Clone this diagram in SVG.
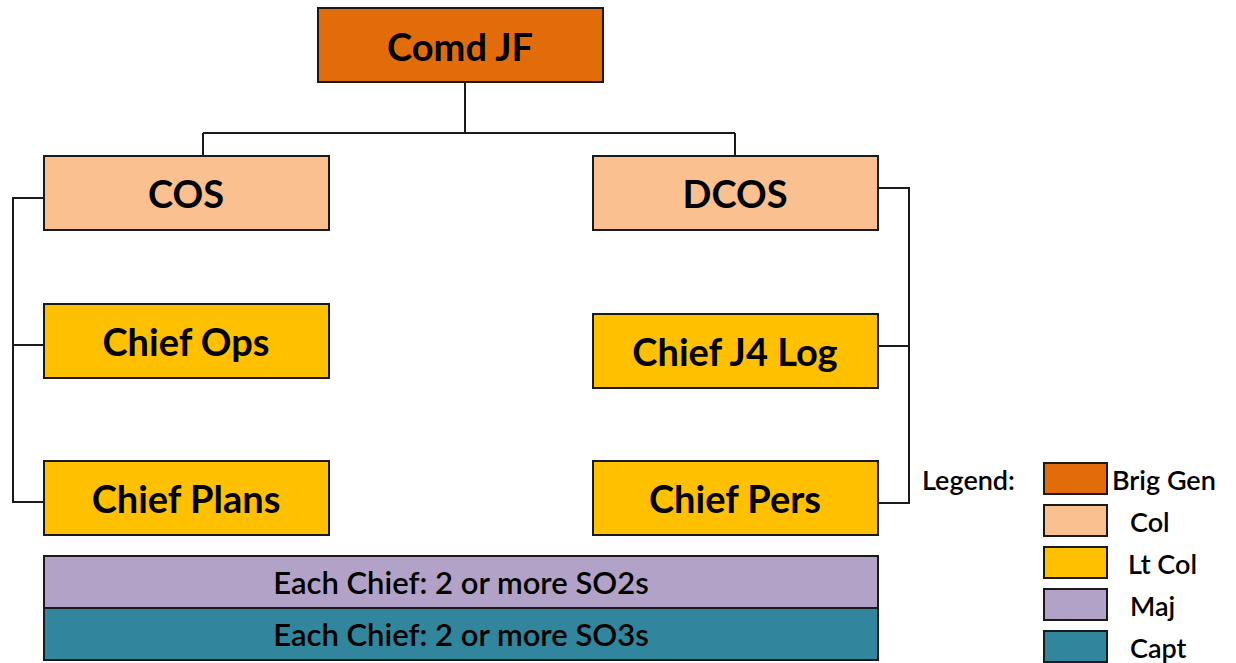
<svg xmlns="http://www.w3.org/2000/svg" width="1236" height="663" viewBox="0 0 1236 663">
<style>
.box{stroke:#1a1a1a;stroke-width:2}
.bg{fill:#E36C0A}.col{fill:#FAC090}.lt{fill:#FFC000}.maj{fill:#B3A2C7}.capt{fill:#31859C}
.lbl{font-family:Lato,"Open Sans",sans-serif;font-weight:bold;font-size:38px;fill:#000;text-anchor:middle;dominant-baseline:central}
.bar{font-family:Lato,"Open Sans",sans-serif;font-weight:600;font-size:31px;fill:#000;text-anchor:middle;dominant-baseline:central}
.leg{font-family:Lato,"Open Sans",sans-serif;font-weight:600;font-size:27px;fill:#000;dominant-baseline:central}
.conn{fill:none;stroke:#1a1a1a;stroke-width:2}
</style>
<rect width="1236" height="663" fill="#fff"/>
<g id="connectors" class="conn">
<path d="M465 82V133M203 133H735M203 133V155M735 133V155"/>
<path d="M44 198H13V502H44M13 345H44"/>
<path d="M878 188H909V503H878M909 346H878"/>
</g>
<g id="comd"><rect class="box bg" x="318" y="8" width="285" height="74"/><text class="lbl" x="460" y="46">Comd JF</text></g>
<g id="cos"><rect class="box col" x="44" y="156" width="285" height="74"/><text class="lbl" x="186" y="193">COS</text></g>
<g id="dcos"><rect class="box col" x="593" y="156" width="285" height="74"/><text class="lbl" x="735" y="193">DCOS</text></g>
<g id="ops"><rect class="box lt" x="44" y="304" width="285" height="74"/><text class="lbl" x="186" y="341">Chief Ops</text></g>
<g id="j4"><rect class="box lt" x="593" y="314" width="285" height="74"/><text class="lbl" x="735" y="351">Chief J4 Log</text></g>
<g id="plans"><rect class="box lt" x="44" y="461" width="285" height="74"/><text class="lbl" x="186" y="498">Chief Plans</text></g>
<g id="pers"><rect class="box lt" x="593" y="461" width="285" height="74"/><text class="lbl" x="735" y="498">Chief Pers</text></g>
<g id="so2"><rect class="box maj" x="44" y="556" width="834" height="52"/><text class="bar" x="461" y="582">Each Chief: 2 or more SO2s</text></g>
<g id="so3"><rect class="box capt" x="44" y="608" width="834" height="52"/><text class="bar" x="461" y="634">Each Chief: 2 or more SO3s</text></g>
<g id="legend">
<text class="leg" x="922" y="479">Legend:</text>
<rect class="box bg" x="1044" y="463" width="63" height="31"/><text class="leg" x="1112" y="479">Brig Gen</text>
<rect class="box col" x="1044" y="505" width="63" height="31"/><text class="leg" x="1130" y="521">Col</text>
<rect class="box lt" x="1044" y="547" width="63" height="31"/><text class="leg" x="1128" y="563">Lt Col</text>
<rect class="box maj" x="1044" y="589" width="63" height="31"/><text class="leg" x="1130" y="605">Maj</text>
<rect class="box capt" x="1044" y="631" width="63" height="31"/><text class="leg" x="1130" y="647">Capt</text>
</g>
</svg>
